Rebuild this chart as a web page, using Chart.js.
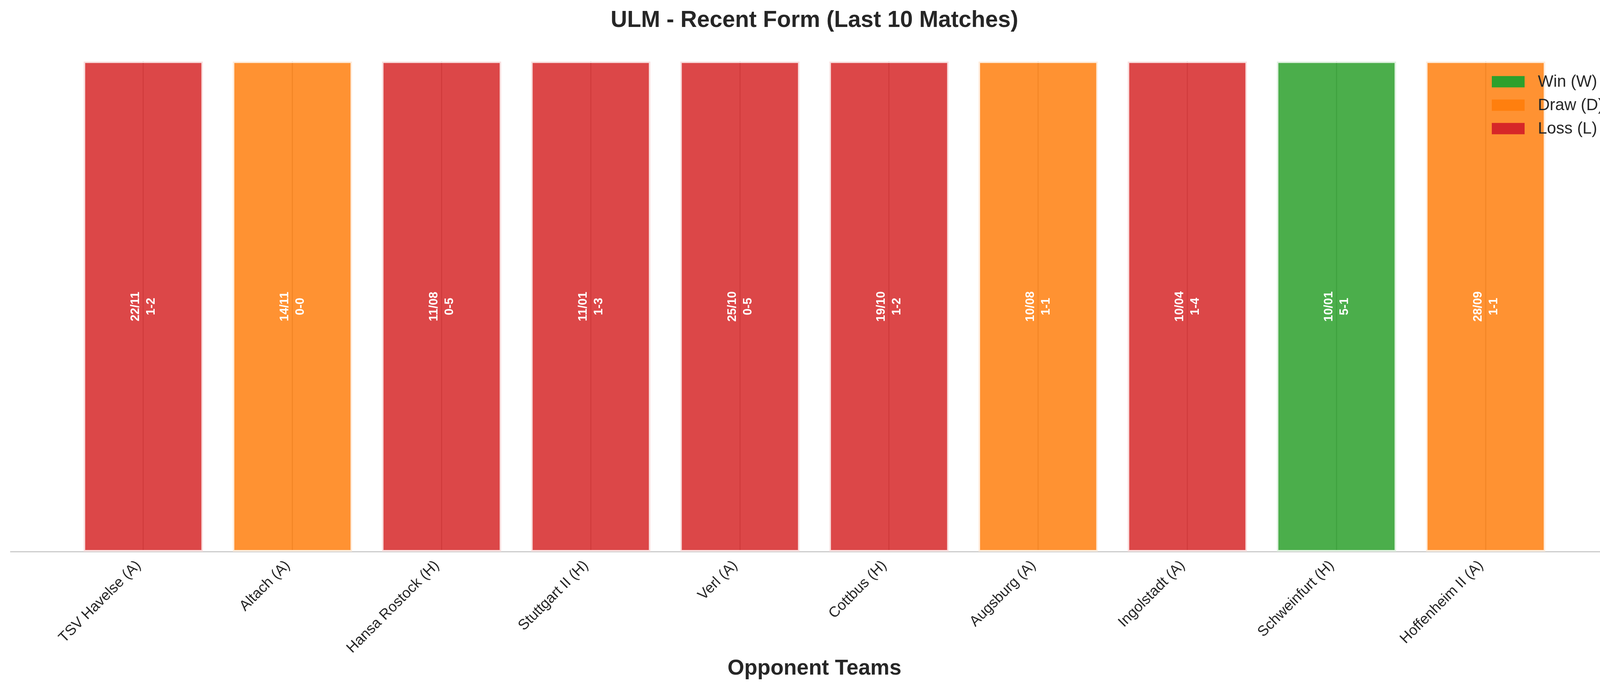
<!DOCTYPE html>
<html>
<head>
<meta charset="utf-8">
<script src="https://cdn.jsdelivr.net/npm/chart.js@4.4.1/dist/chart.umd.min.js"></script>
<style>
    html, body { margin: 0; padding: 0; background: #ffffff; overflow: hidden; }
    #chart { display: block; }
</style>
</head>
<body>
<canvas id="chart" width="4170" height="1769" style="width:4170px;height:1769px"></canvas>
<script>
// Match data, newest first
const opponents = ['TSV Havelse (A)', 'Altach (A)', 'Hansa Rostock (H)', 'Stuttgart II (H)', 'Verl (A)',
    'Cottbus (H)', 'Augsburg (A)', 'Ingolstadt (A)', 'Schweinfurt (H)', 'Hoffenheim II (A)'];
const results = ['L', 'D', 'L', 'L', 'L', 'L', 'D', 'L', 'W', 'D'];
const dates = ['22/11', '14/11', '11/08', '11/01', '25/10', '19/10', '10/08', '10/04', '10/01', '28/09'];
const scores = ['1-2', '0-0', '0-5', '1-3', '0-5', '1-2', '1-1', '1-4', '5-1', '1-1'];
const barHeights = [1, 1, 1, 1, 1, 1, 1, 1, 1, 1];

const legendLabels = ['Win (W)', 'Draw (D)', 'Loss (L)'];
const legendKeys = ['W', 'D', 'L'];

const FONT = "'Liberation Sans', Arial, Helvetica, sans-serif";

const fillColors = { W: 'rgba(44, 160, 44, 0.85)', D: 'rgba(255, 127, 14, 0.85)', L: 'rgba(214, 39, 40, 0.85)' };
const edgeColors = { W: '#dff1df', D: '#ffecdb', L: '#f9dfdf' };
const solidColors = { W: '#2ca02c', D: '#ff7f0e', L: '#d62728' };

// date + score written vertically in the middle of each bar
const barTextPlugin = {
    id: 'barText',
    afterDatasetsDraw(chart) {
        const { ctx, scales: { y } } = chart;
        const meta = chart.getDatasetMeta(0);
        const midY = y.getPixelForValue(0.5);
        ctx.save();
        ctx.fillStyle = '#ffffff';
        ctx.font = `bold 31px ${FONT}`;
        ctx.textAlign = 'center';
        ctx.textBaseline = 'middle';
        meta.data.forEach((bar, i) => {
            ctx.save();
            ctx.translate(bar.x, midY);
            ctx.rotate(-Math.PI / 2);
            ctx.fillText(dates[i], 0, -19);
            ctx.fillText(scores[i], 0, 21);
            ctx.restore();
        });
        ctx.restore();
    }
};

// legend inside the plot, upper right, no frame
const cornerLegendPlugin = {
    id: 'cornerLegend',
    afterDraw(chart) {
        const { ctx, chartArea } = chart;
        const patchX = chartArea.right - 324;
        const textX = chartArea.right - 206;
        ctx.save();
        ctx.font = `42px ${FONT}`;
        ctx.textAlign = 'left';
        ctx.textBaseline = 'middle';
        legendKeys.forEach((k, i) => {
            const cy = chartArea.top + 52 + i * 60;
            ctx.fillStyle = solidColors[k];
            ctx.fillRect(patchX, cy - 14.5, 84, 29);
            ctx.fillStyle = '#262626';
            ctx.fillText(legendLabels[i], textX, cy + 1);
        });
        ctx.restore();
    }
};

const ctx = document.getElementById('chart').getContext('2d');
new Chart(ctx, {
    type: 'bar',
    data: {
        datasets: [{
            label: 'Form',
            data: barHeights.map((h, i) => ({ x: i, y: h })),
            backgroundColor: results.map(r => fillColors[r]),
            borderColor: results.map(r => edgeColors[r]),
            borderWidth: 4,
            borderSkipped: false,
            barPercentage: 0.8,
            categoryPercentage: 1.0
        }]
    },
    options: {
        responsive: false,
        animation: false,
        devicePixelRatio: 1,
        layout: { padding: { top: 0, left: 27, right: 27, bottom: 10 } },
        plugins: {
            legend: { display: false },
            tooltip: { enabled: false },
            title: {
                display: true,
                text: 'ULM - Recent Form (Last 10 Matches)',
                color: '#262626',
                font: { family: FONT, size: 58.5, weight: 'bold' },
                padding: { top: 18, bottom: 69 }
            }
        },
        scales: {
            x: {
                type: 'linear',
                offset: false,
                min: -0.89,
                max: 9.89,
                afterBuildTicks(scale) {
                    scale.ticks = opponents.map((_, i) => ({ value: i }));
                },
                afterFit(scale) {
                    scale.height = 347;
                },
                grid: {
                    display: true,
                    offset: false,
                    drawTicks: false,
                    color: 'rgba(0, 0, 0, 0.3)',
                    lineWidth: 3
                },
                border: { display: true, color: '#cccccc', width: 3 },
                ticks: {
                    autoSkip: false,
                    minRotation: 45,
                    maxRotation: 45,
                    padding: 14,
                    labelOffset: -12,
                    color: '#262626',
                    font: { family: FONT, size: 37.5 },
                    callback: (v) => opponents[v] ?? ''
                },
                title: {
                    display: true,
                    text: 'Opponent Teams',
                    color: '#262626',
                    font: { family: FONT, size: 55, weight: 'bold' },
                    padding: { top: 0, bottom: 14 }
                }
            },
            y: {
                display: false,
                min: 0,
                max: 1
            }
        }
    },
    plugins: [barTextPlugin, cornerLegendPlugin]
});
</script>
</body>
</html>
